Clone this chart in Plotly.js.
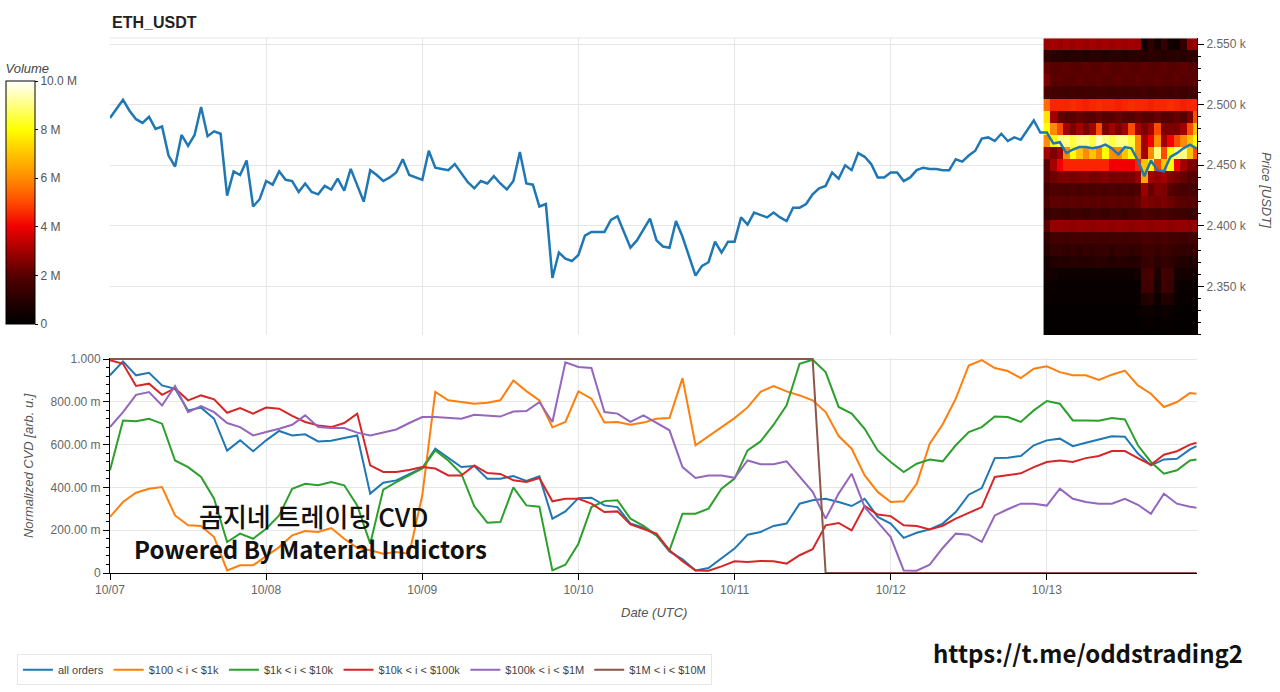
<!DOCTYPE html>
<html>
<head>
<meta charset="utf-8">
<script src="https://cdn.plot.ly/plotly-3.0.1.min.js"></script>
<style>
  html, body { margin: 0; padding: 0; background: #fff; }
  #chart { width: 1280px; height: 692px; }
</style>
</head>
<body>
<div id="chart"></div>
<script>
// ETH_USDT hourly close, 10/07 00:00 .. 10/13 23:00 (UTC)
const priceClose = [
  2489, 2497, 2504, 2495, 2488, 2485, 2490, 2480, 2482, 2458, 2449, 2475, 2466, 2475, 2498, 2474, 2478, 2476, 2425, 2445, 2442, 2454, 2416, 2422,
  2437, 2434, 2445, 2438, 2437, 2428, 2435, 2428, 2426, 2433, 2430, 2439, 2429, 2447, 2434, 2420, 2446, 2442, 2437, 2440, 2444, 2455, 2442, 2440,
  2438, 2462, 2448, 2447, 2446, 2451, 2444, 2436, 2431, 2437, 2435, 2441, 2435, 2430, 2437, 2461, 2435, 2434, 2416, 2418, 2357, 2378, 2373, 2371,
  2376, 2392, 2395, 2395, 2395, 2405, 2408, 2395, 2382, 2388, 2397, 2406, 2388, 2383, 2382, 2404, 2391, 2375, 2359, 2367, 2370, 2387, 2378, 2387,
  2387, 2407, 2401, 2411, 2409, 2407, 2411, 2407, 2404, 2415, 2415, 2418, 2426, 2431, 2433, 2444, 2439, 2450, 2446, 2460, 2457, 2451, 2440, 2440,
  2444, 2444, 2437, 2440, 2446, 2448, 2447, 2447, 2446, 2446, 2455, 2453, 2458, 2462, 2472, 2473, 2470, 2476, 2470, 2473, 2471, 2479, 2487, 2477,
  2477, 2468, 2469, 2460, 2463, 2465, 2465, 2464, 2465, 2467, 2464, 2459, 2465, 2464, 2454, 2441, 2454, 2446, 2445, 2457, 2460, 2464, 2467, 2464
];

// normalized CVD per order size bucket, every 2 hours (+ last hour)
const cvdAll = [
  0.924, 0.989, 0.924, 0.936, 0.877, 0.861, 0.760, 0.773, 0.721, 0.572, 0.620, 0.569,
  0.620, 0.664, 0.643, 0.648, 0.615, 0.618, 0.631, 0.643, 0.371, 0.422, 0.433, 0.463,
  0.491, 0.581, 0.537, 0.495, 0.500, 0.441, 0.441, 0.453, 0.430, 0.452, 0.254, 0.288,
  0.350, 0.352, 0.316, 0.308, 0.231, 0.212, 0.176, 0.101, 0.064, 0.012, 0.023, 0.070,
  0.114, 0.179, 0.192, 0.220, 0.231, 0.324, 0.340, 0.347, 0.332, 0.313, 0.347, 0.262,
  0.231, 0.164, 0.188, 0.204, 0.231, 0.285, 0.366, 0.397, 0.537, 0.539, 0.547, 0.597,
  0.620, 0.628, 0.593, 0.609, 0.625, 0.639, 0.637, 0.558, 0.503, 0.531, 0.534, 0.578, 0.593
];
const cvd100to1k = [
  0.262, 0.332, 0.375, 0.394, 0.402, 0.269, 0.223, 0.220, 0.168, 0.012, 0.036, 0.036,
  0.079, 0.121, 0.176, 0.196, 0.192, 0.210, 0.160, 0.118, 0.106, 0.090, 0.098, 0.090,
  0.363, 0.846, 0.807, 0.799, 0.791, 0.796, 0.807, 0.900, 0.850, 0.807, 0.681, 0.706,
  0.849, 0.815, 0.703, 0.706, 0.693, 0.703, 0.721, 0.724, 0.911, 0.597, 0.640, 0.682,
  0.724, 0.774, 0.847, 0.874, 0.849, 0.830, 0.807, 0.752, 0.640, 0.581, 0.456, 0.379,
  0.332, 0.335, 0.417, 0.604, 0.695, 0.815, 0.970, 0.995, 0.958, 0.944, 0.911, 0.955,
  0.966, 0.939, 0.924, 0.924, 0.902, 0.927, 0.946, 0.877, 0.838, 0.776, 0.799, 0.841, 0.838
];
const cvd1kto10k = [
  0.480, 0.713, 0.709, 0.721, 0.698, 0.526, 0.495, 0.449, 0.347, 0.145, 0.184, 0.160,
  0.207, 0.269, 0.394, 0.417, 0.410, 0.425, 0.410, 0.316, 0.137, 0.390, 0.425, 0.456,
  0.488, 0.573, 0.526, 0.464, 0.312, 0.235, 0.238, 0.400, 0.316, 0.310, 0.012, 0.039,
  0.137, 0.308, 0.336, 0.340, 0.254, 0.220, 0.176, 0.106, 0.277, 0.277, 0.301, 0.394,
  0.441, 0.573, 0.615, 0.693, 0.784, 0.978, 0.997, 0.939, 0.776, 0.745, 0.674, 0.573,
  0.519, 0.472, 0.511, 0.530, 0.522, 0.597, 0.659, 0.682, 0.732, 0.729, 0.706, 0.760,
  0.804, 0.791, 0.713, 0.713, 0.712, 0.724, 0.718, 0.597, 0.519, 0.464, 0.480, 0.526, 0.531
];
const cvd10kto100k = [
  0.994, 0.978, 0.874, 0.885, 0.833, 0.864, 0.807, 0.830, 0.812, 0.749, 0.771, 0.745,
  0.773, 0.768, 0.734, 0.706, 0.690, 0.682, 0.701, 0.745, 0.503, 0.472, 0.472, 0.481,
  0.495, 0.488, 0.456, 0.456, 0.503, 0.467, 0.463, 0.433, 0.425, 0.444, 0.335, 0.347,
  0.347, 0.324, 0.285, 0.288, 0.227, 0.207, 0.184, 0.106, 0.055, 0.012, 0.011, 0.031,
  0.055, 0.051, 0.056, 0.055, 0.044, 0.083, 0.111, 0.223, 0.234, 0.199, 0.313, 0.273,
  0.266, 0.223, 0.220, 0.204, 0.221, 0.254, 0.282, 0.308, 0.449, 0.456, 0.466, 0.495,
  0.519, 0.526, 0.519, 0.537, 0.547, 0.570, 0.570, 0.537, 0.506, 0.553, 0.569, 0.600, 0.609
];
const cvd100kto1M = [
  0.682, 0.752, 0.833, 0.846, 0.783, 0.874, 0.752, 0.780, 0.752, 0.701, 0.682, 0.643,
  0.659, 0.674, 0.693, 0.737, 0.682, 0.678, 0.678, 0.656, 0.643, 0.656, 0.671, 0.701,
  0.729, 0.729, 0.724, 0.721, 0.740, 0.737, 0.731, 0.755, 0.757, 0.799, 0.706, 0.985,
  0.963, 0.958, 0.752, 0.745, 0.706, 0.737, 0.701, 0.667, 0.495, 0.444, 0.456, 0.456,
  0.445, 0.526, 0.508, 0.508, 0.522, 0.449, 0.379, 0.254, 0.371, 0.464, 0.308, 0.238,
  0.168, 0.012, 0.011, 0.039, 0.117, 0.184, 0.179, 0.145, 0.269, 0.298, 0.324, 0.324,
  0.315, 0.394, 0.347, 0.332, 0.324, 0.324, 0.347, 0.319, 0.277, 0.371, 0.324, 0.310, 0.305
];
const cvd1Mto10M = [
  1, 1, 1, 1, 1, 1, 1, 1, 1, 1, 1, 1,
  1, 1, 1, 1, 1, 1, 1, 1, 1, 1, 1, 1,
  1, 1, 1, 1, 1, 1, 1, 1, 1, 1, 1, 1,
  1, 1, 1, 1, 1, 1, 1, 1, 1, 1, 1, 1,
  1, 1, 1, 1, 1, 1, 1, 0, 0, 0, 0, 0,
  0, 0, 0, 0, 0, 0, 0, 0, 0, 0, 0, 0,
  0, 0, 0, 0, 0, 0, 0, 0, 0, 0, 0, 0, 0
];
const seriesNames = ['all orders', '$100 < i < $1k', '$1k < i < $10k', '$10k < i < $100k', '$100k < i < $1M', '$1M < i < $10M'];

// order book volume (M) on 10/13, price levels x hourly columns
const heatPrices = [2310, 2320, 2330, 2340, 2350, 2360, 2370, 2380, 2390, 2400, 2410, 2420, 2430,
                    2440, 2450, 2460, 2470, 2480, 2490, 2500, 2510, 2520, 2530, 2540, 2550];
const heatVolume = [
  [0.1,0.1,0.1,0.1,0.1,0.1,0.1,0.1,0.1,0.1,0.1,0.1,0.1,0.1,0.1,0.1,0.1,0.1,0.1,0.1,0.1,0.1,0.1,0.1],
  [0.1,0.1,0.1,0.1,0.1,0.1,0.1,0.1,0.1,0.1,0.1,0.1,0.1,0.1,0.1,0.2,0.2,0.1,0.2,0.2,0.1,0.1,0.1,0.1],
  [0.1,0.1,0.1,0.1,0.1,0.1,0.1,0.1,0.1,0.1,0.1,0.1,0.1,0.1,0.2,0.4,0.4,0.2,0.4,0.3,0.2,0.1,0.1,0.1],
  [0.2,0.2,0.2,0.2,0.2,0.2,0.2,0.2,0.2,0.2,0.2,0.2,0.2,0.2,0.3,0.9,1.0,0.4,0.9,0.8,0.3,0.2,0.2,0.2],
  [0.3,0.3,0.2,0.2,0.2,0.2,0.2,0.2,0.2,0.2,0.2,0.2,0.2,0.2,0.3,1.5,1.6,0.6,1.5,1.4,0.4,0.3,0.3,0.3],
  [0.5,0.5,0.4,0.4,0.4,0.4,0.4,0.4,0.4,0.4,0.4,0.4,0.4,0.4,0.5,1.6,1.7,0.8,1.6,1.5,0.6,0.5,0.5,0.5],
  [0.6,0.9,1.0,0.9,1.0,1.0,0.9,1.0,1.1,1.0,0.9,1.0,1.0,0.9,1.0,1.3,1.4,1.1,1.3,1.2,1.0,0.9,0.8,1.0],
  [1.0,1.3,1.3,1.2,1.3,1.2,1.3,1.2,1.3,1.3,1.2,1.3,1.3,1.2,1.3,1.5,1.5,1.3,1.5,1.4,1.3,1.2,1.2,1.3],
  [1.2,1.6,1.6,1.5,1.6,1.6,1.5,1.6,1.6,1.5,1.6,1.6,1.5,1.6,1.6,1.7,1.7,1.6,1.7,1.6,1.6,1.5,1.6,1.6],
  [2.0,2.8,2.8,2.8,2.7,2.8,2.8,2.7,2.8,2.8,2.7,2.8,2.8,2.7,2.8,2.8,2.7,2.8,2.8,2.7,2.8,2.8,2.7,2.8],
  [1.3,1.5,1.5,1.4,1.5,1.5,1.4,1.5,1.5,1.4,1.5,1.5,1.4,1.5,1.6,1.8,1.7,1.6,1.7,1.6,1.5,1.5,1.4,1.5],
  [1.8,2.1,2.1,2.0,2.1,2.0,2.1,2.0,2.1,2.0,2.1,2.0,2.1,2.0,2.2,2.6,2.5,2.4,2.5,2.3,2.1,2.0,2.0,2.0],
  [1.6,1.8,1.8,1.7,1.8,1.7,1.8,1.7,1.8,1.7,1.8,1.7,1.8,1.7,1.9,2.9,2.2,2.6,2.5,2.0,1.8,1.7,1.7,1.7],
  [2.0,2.3,2.5,2.5,2.4,2.5,2.6,2.4,2.5,2.6,2.4,2.5,2.4,2.5,2.8,6.5,3.0,2.8,3.0,2.6,2.4,2.2,2.0,2.0],
  [2.0,3.0,4.0,4.5,4.5,4.5,4.5,4.5,4.5,4.5,4.0,4.0,4.0,4.0,4.5,7.0,8.0,5.0,7.0,8.0,4.0,3.0,2.5,2.5],
  [3.0,2.5,3.0,6.0,8.0,7.0,6.0,7.0,6.0,8.0,6.0,6.0,7.0,8.0,6.0,3.0,6.0,9.0,5.0,8.0,9.0,9.0,7.0,5.0],
  [6.0,8.0,9.0,9.0,8.5,9.0,9.0,8.5,9.5,9.0,8.5,9.0,9.0,8.5,6.0,3.0,4.0,6.0,3.0,4.0,5.0,6.0,7.0,8.0],
  [8.0,6.0,5.0,3.0,2.5,3.0,2.5,3.0,5.0,2.5,3.0,2.5,3.0,5.0,3.0,2.5,3.0,5.0,2.5,2.5,2.5,3.0,5.0,7.0],
  [7.5,3.0,2.2,2.0,2.0,2.2,2.0,2.0,2.2,2.0,2.0,2.2,2.0,2.0,2.2,2.0,2.0,2.2,2.0,2.0,2.2,2.0,2.5,5.0],
  [5.5,4.5,4.5,4.5,4.6,4.5,4.4,4.5,4.6,4.5,4.5,4.4,4.5,4.6,4.5,4.5,4.4,4.5,4.5,4.6,4.5,4.4,4.5,4.5],
  [1.8,1.6,1.6,1.5,1.6,1.5,1.6,1.5,1.6,1.6,1.5,1.6,1.5,1.6,1.5,1.6,1.5,1.6,1.6,1.5,1.6,1.5,1.6,1.6],
  [2.5,2.0,2.1,2.0,2.0,2.1,2.0,2.0,2.1,2.0,2.0,2.1,2.0,2.0,2.1,2.0,2.0,2.1,2.0,2.0,2.1,2.0,2.0,2.1],
  [2.2,2.0,2.0,2.1,2.0,2.0,2.1,2.0,2.0,2.1,2.0,2.0,2.1,2.0,2.0,2.1,2.0,2.0,2.1,2.0,2.0,2.1,2.0,2.0],
  [1.2,1.1,1.1,1.0,1.1,1.1,1.0,1.1,1.1,1.0,1.1,1.1,1.0,1.1,1.1,1.0,1.1,1.1,1.0,1.1,1.1,1.0,1.1,1.1],
  [2.9,3.0,2.9,3.0,2.9,3.0,2.9,3.0,2.9,3.0,2.9,3.0,2.9,3.0,2.9,0.4,1.2,0.6,1.3,0.5,0.4,1.2,2.8,2.9]
];

const priceTicks = [2350, 2400, 2450, 2500, 2550];
const priceTickText = ['2.350 k', '2.400 k', '2.450 k', '2.500 k', '2.550 k'];
const cvdTicks = [0, 0.2, 0.4, 0.6, 0.8, 1.0];
const cvdTickText = ['0', '200.00 m', '400.00 m', '600.00 m', '800.00 m', '1.000'];
const volTicks = [0, 2, 4, 6, 8, 10];
const volTickText = ['0', '2 M', '4 M', '6 M', '8 M', '10.0 M'];

//hours since 10/07 00:00 UTC -> date string
function stamp(h) {
    let d = new Date(Date.UTC(2024, 9, 7, h));
    return d.toISOString().slice(0, 16).replace('T', ' ');
}

let priceTimes = [];
for (let h = 0; h < priceClose.length; h++) priceTimes.push(stamp(h));
let cvdTimes = [];
for (let h = 0; h <= 166; h += 2) cvdTimes.push(stamp(h));
cvdTimes.push(stamp(167));
let heatTimes = [];
for (let h = 144; h < 168; h++) heatTimes.push(stamp(h));

const colors = ['#1f77b4', '#ff7f0e', '#2ca02c', '#d62728', '#9467bd', '#8c564b'];
const cvdSeries = [cvdAll, cvd100to1k, cvd1kto10k, cvd10kto100k, cvd100kto1M, cvd1Mto10M];

let traces = [];
traces.push({
    x: heatTimes, y: heatPrices, z: heatVolume,
    type: 'heatmap', xaxis: 'x2', yaxis: 'y2',
    zmin: 0, zmax: 10, zsmooth: false, hoverinfo: 'skip', showlegend: false,
    colorscale: [[0, '#000000'], [0.1, '#260000'], [0.2, '#560000'], [0.3, '#a30000'], [0.4, '#f00000'],
                 [0.5, '#ff4a00'], [0.6, '#ff8c00'], [0.7, '#ffc400'], [0.8, '#ffff00'], [0.9, '#ffff80'], [1, '#ffffff']],
    colorbar: {
        x: -0.0957, xanchor: 'left', xpad: 0, y: 0.7112, yanchor: 'middle', ypad: 0,
        len: 263, lenmode: 'pixels', thickness: 29, outlinewidth: 1, outlinecolor: '#000',
        tickmode: 'array', tickvals: volTicks, ticktext: volTickText,
        ticks: 'outside', ticklen: 3, tickcolor: '#000',
        tickfont: {size: 12, color: '#555'},
        title: {text: '<i>Volume</i>', side: 'top', font: {size: 13, color: '#444'}}
    }
});
traces.push({
    x: priceTimes, y: priceClose, type: 'scatter', mode: 'lines',
    xaxis: 'x2', yaxis: 'y2', showlegend: false,
    line: {color: '#1f77b4', width: 2.5}
});
for (let i = 0; i < cvdSeries.length; i++) {
    traces.push({
        x: cvdTimes, y: cvdSeries[i], type: 'scatter', mode: 'lines',
        name: seriesNames[i], line: {color: colors[i], width: 2}
    });
}

const grid = '#e6e6e6';
const note = (text, x, y, font, extra) => Object.assign({
    text: text, xref: 'paper', yref: 'paper', x: x, y: y,
    xanchor: 'center', yanchor: 'middle', showarrow: false, font: font
}, extra || {});

const layout = {
    width: 1280, height: 692,
    margin: {l: 110, r: 83, t: 38, b: 119, autoexpand: false},
    paper_bgcolor: '#fff', plot_bgcolor: '#fff',
    font: {family: 'Liberation Sans, Arial, sans-serif', size: 12, color: '#444'},
    showlegend: true,
    legend: {
        orientation: 'h', x: -0.0856, xanchor: 'left', y: -0.152, yanchor: 'top',
        bordercolor: grid, borderwidth: 1, bgcolor: '#fff',
        font: {size: 11, color: '#444'}
    },
    xaxis: {
        domain: [0, 1], anchor: 'y', type: 'date',
        range: ['2024-10-07 00:00', '2024-10-13 23:05'],
        tick0: '2024-10-07', dtick: 86400000, tickformat: '%m/%d',
        ticks: 'outside', ticklen: 6, tickcolor: '#000',
        showline: true, linecolor: '#000', linewidth: 1,
        showgrid: true, gridcolor: grid, zeroline: false,
        tickfont: {size: 12, color: '#666'}
    },
    xaxis2: {
        anchor: 'y2', matches: 'x', type: 'date',
        tick0: '2024-10-07', dtick: 86400000,
        showticklabels: false, ticks: '', showline: false,
        showgrid: true, gridcolor: grid, zeroline: false
    },
    yaxis: {
        domain: [0, 0.4019], anchor: 'x', range: [0, 1.005],
        tickmode: 'array', tickvals: cvdTicks, ticktext: cvdTickText,
        ticks: 'outside', ticklen: 6, tickcolor: '#000',
        minor: {tickmode: 'linear', tick0: 0, dtick: 0.04, ticks: 'outside', ticklen: 3, tickcolor: '#000', showgrid: false},
        showline: true, linecolor: '#000', linewidth: 1,
        showgrid: true, gridcolor: grid, zeroline: false,
        tickfont: {size: 12, color: '#666'}
    },
    yaxis2: {
        domain: [0.4449, 1], anchor: 'x2', side: 'right', range: [2310, 2555],
        tickmode: 'array', tickvals: priceTicks, ticktext: priceTickText,
        ticks: 'outside', ticklen: 6, tickcolor: '#000',
        minor: {tickmode: 'linear', tick0: 2310, dtick: 10, ticks: 'outside', ticklen: 3, tickcolor: '#000', showgrid: false},
        showline: true, linecolor: '#000', linewidth: 1,
        showgrid: true, gridcolor: grid, zeroline: false,
        tickfont: {size: 12, color: '#666'}
    },
    shapes: [
        {type: 'line', xref: 'paper', yref: 'paper', x0: 0, x1: 1, y0: 1, y1: 1, line: {color: grid, width: 1}}
    ],
    annotations: [
        note('<b>ETH_USDT</b>', 0, 1.0299, {size: 16, color: '#222'}, {xanchor: 'left'}),
        note('<i>Normalized CVD [arb. u.]</i>', -0.0754, 0.2, {size: 13, color: '#555'}, {textangle: -90}),
        note('<i>Date (UTC)</i>', 0.5, -0.0729, {size: 13, color: '#555'}),
        note('<i>Price [USDT]</i>', 1.0635, 0.716, {size: 13, color: '#555'}, {textangle: 90}),
        note('곰지네 트레이딩 CVD', 0.1868, 0.1084, {family: 'Noto Sans CJK KR', size: 26, weight: 500, color: '#111'}),
        note('<b>Powered By Material Indictors</b>', 0.184, 0.0467, {family: 'Noto Sans CJK KR', size: 24, color: '#111'}),
        note('<b>https://t.me/oddstrading2</b>', 0.8997, -0.1495, {family: 'Noto Sans CJK KR', size: 24, color: '#111'})
    ]
};

Plotly.newPlot('chart', traces, layout, {displayModeBar: false, staticPlot: true});
</script>
</body>
</html>
